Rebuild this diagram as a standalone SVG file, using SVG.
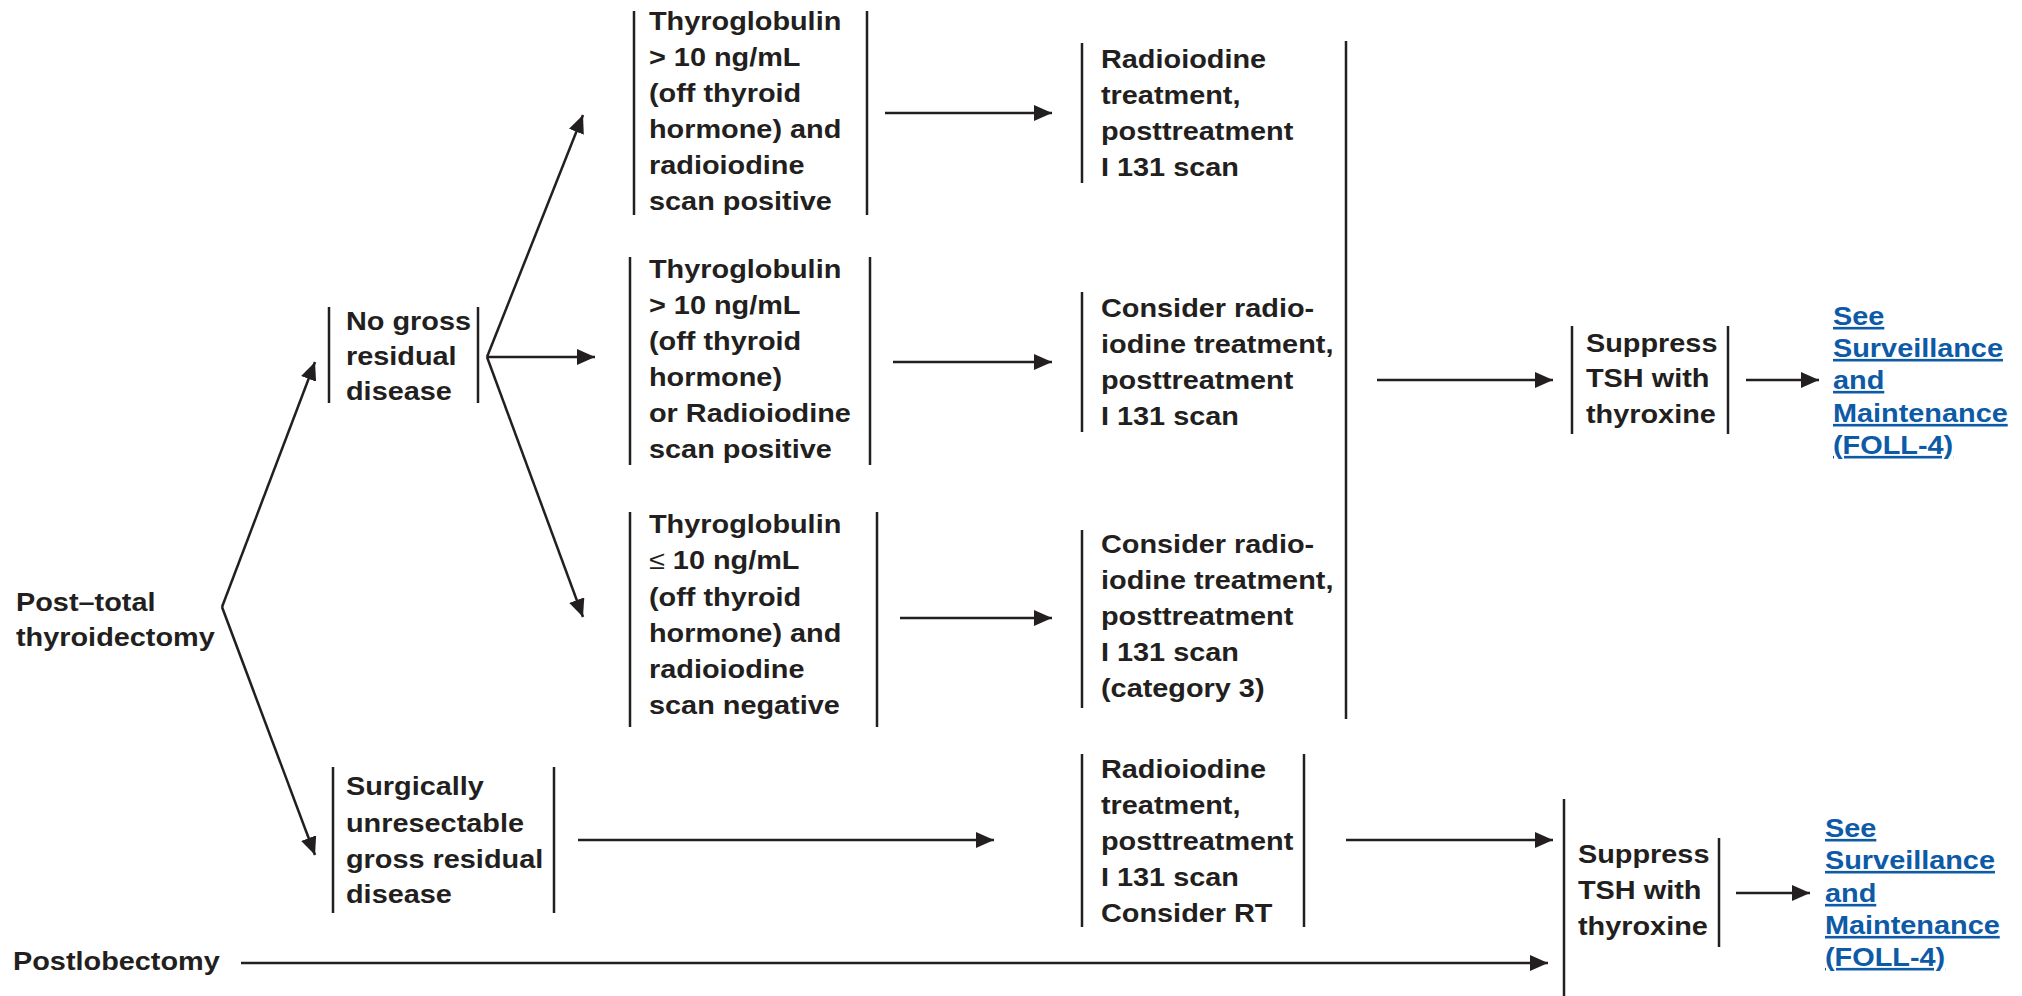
<svg xmlns="http://www.w3.org/2000/svg" width="2022" height="996" viewBox="0 0 2022 996">
<style>
.t{font-family:"Liberation Sans",Arial,sans-serif;font-weight:bold;font-size:26px;fill:#231f20}
.lk{fill:#0d5aa7;text-decoration:underline}
.bar{stroke:#231f20;stroke-width:2.5;fill:none}
.con{stroke:#231f20;stroke-width:2.5;fill:none;marker-end:url(#ah)}
.thin{font-weight:normal}
</style>
<defs>
<marker id="ah" markerUnits="userSpaceOnUse" markerWidth="18" markerHeight="16" refX="18" refY="8" orient="auto">
<path d="M0,0 L18,8 L0,16 z" fill="#231f20"/>
</marker>
</defs>
<rect width="2022" height="996" fill="#ffffff"/>

<g id="connectors">
<line class="con" x1="222" y1="607" x2="315" y2="362"/>
<line class="con" x1="222" y1="607" x2="315" y2="855"/>
<line class="con" x1="487" y1="357" x2="583" y2="115"/>
<line class="con" x1="487" y1="357" x2="595" y2="357"/>
<line class="con" x1="487" y1="357" x2="583" y2="617"/>
<line class="con" x1="885" y1="113" x2="1052" y2="113"/>
<line class="con" x1="893" y1="362" x2="1052" y2="362"/>
<line class="con" x1="900" y1="618" x2="1052" y2="618"/>
<line class="con" x1="578" y1="840" x2="994" y2="840"/>
<line class="con" x1="241" y1="963" x2="1548" y2="963"/>
<line class="bar" x1="1346" y1="41" x2="1346" y2="719"/>
<line class="con" x1="1377" y1="380" x2="1553" y2="380"/>
<line class="con" x1="1746" y1="380" x2="1819" y2="380"/>
<line class="con" x1="1346" y1="840" x2="1553" y2="840"/>
<line class="con" x1="1736" y1="893" x2="1810" y2="893"/>
</g>

<g id="post_total">
<text class="t" transform="translate(16,0) scale(1.11,1)"><tspan x="0" y="611">Post–total</tspan><tspan x="0" y="646">thyroidectomy</tspan></text>
</g>

<g id="postlobectomy">
<text class="t" transform="translate(13,0) scale(1.11,1)"><tspan x="0" y="970">Postlobectomy</tspan></text>
</g>

<g id="no_gross">
<line class="bar" x1="329" y1="307" x2="329" y2="403"/>
<line class="bar" x1="478" y1="307" x2="478" y2="403"/>
<text class="t" transform="translate(346,0) scale(1.11,1)"><tspan x="0" y="330">No gross</tspan><tspan x="0" y="365">residual</tspan><tspan x="0" y="400">disease</tspan></text>
</g>

<g id="surgically">
<line class="bar" x1="333" y1="767" x2="333" y2="913"/>
<line class="bar" x1="554" y1="767" x2="554" y2="913"/>
<text class="t" transform="translate(346,0) scale(1.11,1)"><tspan x="0" y="795">Surgically</tspan><tspan x="0" y="832">unresectable</tspan><tspan x="0" y="868">gross residual</tspan><tspan x="0" y="903">disease</tspan></text>
</g>

<g id="tg1">
<line class="bar" x1="634" y1="11" x2="634" y2="215"/>
<line class="bar" x1="867" y1="11" x2="867" y2="215"/>
<text class="t" transform="translate(649,0) scale(1.11,1)"><tspan x="0" y="30">Thyroglobulin</tspan><tspan x="0" y="66">&gt; 10 ng/mL</tspan><tspan x="0" y="102">(off thyroid</tspan><tspan x="0" y="138">hormone) and</tspan><tspan x="0" y="174">radioiodine</tspan><tspan x="0" y="210">scan positive</tspan></text>
</g>

<g id="tg2">
<line class="bar" x1="630" y1="257" x2="630" y2="465"/>
<line class="bar" x1="870" y1="257" x2="870" y2="465"/>
<text class="t" transform="translate(649,0) scale(1.11,1)"><tspan x="0" y="278">Thyroglobulin</tspan><tspan x="0" y="314">&gt; 10 ng/mL</tspan><tspan x="0" y="350">(off thyroid</tspan><tspan x="0" y="386">hormone)</tspan><tspan x="0" y="422">or Radioiodine</tspan><tspan x="0" y="458">scan positive</tspan></text>
</g>

<g id="tg3">
<line class="bar" x1="630" y1="512" x2="630" y2="727"/>
<line class="bar" x1="877" y1="512" x2="877" y2="727"/>
<text class="t" transform="translate(649,0) scale(1.11,1)"><tspan x="0" y="533">Thyroglobulin</tspan><tspan x="0" y="569"><tspan class="thin">≤</tspan> 10 ng/mL</tspan><tspan x="0" y="606">(off thyroid</tspan><tspan x="0" y="642">hormone) and</tspan><tspan x="0" y="678">radioiodine</tspan><tspan x="0" y="714">scan negative</tspan></text>
</g>

<g id="rai1">
<line class="bar" x1="1082" y1="43" x2="1082" y2="183"/>
<text class="t" transform="translate(1101,0) scale(1.11,1)"><tspan x="0" y="68">Radioiodine</tspan><tspan x="0" y="104">treatment,</tspan><tspan x="0" y="140">posttreatment</tspan><tspan x="0" y="176">I 131 scan</tspan></text>
</g>

<g id="rai2">
<line class="bar" x1="1082" y1="292" x2="1082" y2="432"/>
<text class="t" transform="translate(1101,0) scale(1.11,1)"><tspan x="0" y="317">Consider radio-</tspan><tspan x="0" y="353">iodine treatment,</tspan><tspan x="0" y="389">posttreatment</tspan><tspan x="0" y="425">I 131 scan</tspan></text>
</g>

<g id="rai3">
<line class="bar" x1="1082" y1="530" x2="1082" y2="708"/>
<text class="t" transform="translate(1101,0) scale(1.11,1)"><tspan x="0" y="553">Consider radio-</tspan><tspan x="0" y="589">iodine treatment,</tspan><tspan x="0" y="625">posttreatment</tspan><tspan x="0" y="661">I 131 scan</tspan><tspan x="0" y="697">(category 3)</tspan></text>
</g>

<g id="rai4">
<line class="bar" x1="1082" y1="754" x2="1082" y2="927"/>
<line class="bar" x1="1304" y1="754" x2="1304" y2="927"/>
<text class="t" transform="translate(1101,0) scale(1.11,1)"><tspan x="0" y="778">Radioiodine</tspan><tspan x="0" y="814">treatment,</tspan><tspan x="0" y="850">posttreatment</tspan><tspan x="0" y="886">I 131 scan</tspan><tspan x="0" y="922">Consider RT</tspan></text>
</g>

<g id="suppress1">
<line class="bar" x1="1572" y1="326" x2="1572" y2="434"/>
<line class="bar" x1="1728" y1="326" x2="1728" y2="434"/>
<text class="t" transform="translate(1586,0) scale(1.11,1)"><tspan x="0" y="352">Suppress</tspan><tspan x="0" y="387">TSH with</tspan><tspan x="0" y="423">thyroxine</tspan></text>
</g>

<g id="suppress2">
<line class="bar" x1="1564" y1="799" x2="1564" y2="996"/>
<line class="bar" x1="1719" y1="838" x2="1719" y2="947"/>
<text class="t" transform="translate(1578,0) scale(1.11,1)"><tspan x="0" y="863">Suppress</tspan><tspan x="0" y="899">TSH with</tspan><tspan x="0" y="935">thyroxine</tspan></text>
</g>

<g id="link1">
<text class="t lk" transform="translate(1833,0) scale(1.11,1)"><tspan x="0" y="325">See</tspan><tspan x="0" y="357">Surveillance</tspan><tspan x="0" y="389">and</tspan><tspan x="0" y="422">Maintenance</tspan><tspan x="0" y="454">(FOLL-4)</tspan></text>
</g>

<g id="link2">
<text class="t lk" transform="translate(1825,0) scale(1.11,1)"><tspan x="0" y="837">See</tspan><tspan x="0" y="869">Surveillance</tspan><tspan x="0" y="902">and</tspan><tspan x="0" y="934">Maintenance</tspan><tspan x="0" y="966">(FOLL-4)</tspan></text>
</g>
</svg>
